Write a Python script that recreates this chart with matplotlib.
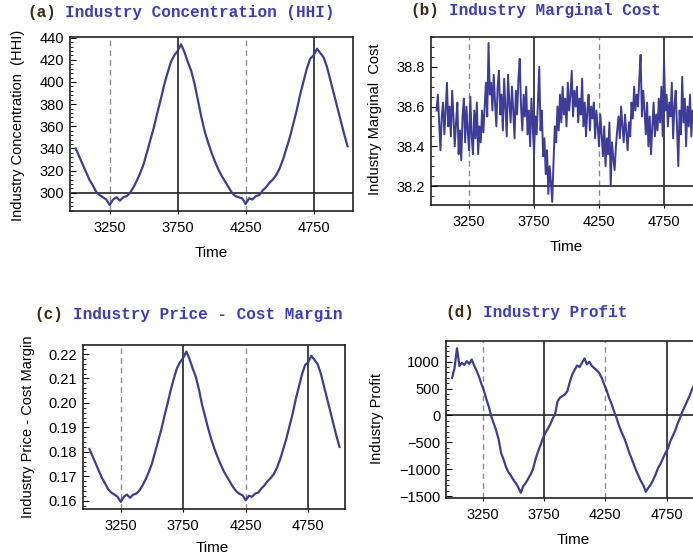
import matplotlib
matplotlib.use("Agg")
import matplotlib.pyplot as plt
from matplotlib.ticker import MultipleLocator, FixedLocator

plt.rcParams['font.family'] = ['Liberation Sans', 'DejaVu Sans']

# time axis for the smooth series (every 25 steps)
time_25 = list(range(3000, 5001, 25))

hhi = [340, 333, 326, 319, 312, 307, 301, 298, 296, 294,
       289, 294, 296, 293, 296, 297, 300, 305, 311, 318,
       326, 337, 348, 359, 372, 384, 397, 408, 418, 424,
       428, 434, 427, 418, 410, 398, 383, 368, 355, 345,
       336, 328, 321, 315, 310, 305, 300, 297, 296, 295,
       290, 295, 294, 297, 298, 302, 305, 309, 312, 316,
       322, 330, 340, 350, 362, 374, 388, 400, 412, 421,
       424, 430, 426, 422, 413, 401, 389, 377, 365, 353,
       342]

pcm = [0.1811, 0.1782, 0.1752, 0.1722, 0.1693, 0.1671, 0.1646, 0.1633, 0.1625, 0.1616,
       0.1595, 0.1616, 0.1625, 0.1612, 0.1625, 0.1629, 0.1642, 0.1663, 0.1688, 0.1718,
       0.1752, 0.1799, 0.1845, 0.1892, 0.1947, 0.1998, 0.2053, 0.2100, 0.2142, 0.2167,
       0.2184, 0.2210, 0.2180, 0.2142, 0.2108, 0.2057, 0.1994, 0.1945, 0.1895, 0.1850,
       0.1812, 0.1778, 0.1748, 0.1720, 0.1698, 0.1676, 0.1655, 0.1638, 0.1628, 0.1622,
       0.1602, 0.1620, 0.1616, 0.1629, 0.1633, 0.1650, 0.1663, 0.1680, 0.1693, 0.1709,
       0.1735, 0.1769, 0.1811, 0.1854, 0.1905, 0.1955, 0.2015, 0.2066, 0.2117, 0.2155,
       0.2167, 0.2193, 0.2176, 0.2159, 0.2121, 0.2070, 0.2019, 0.1968, 0.1917, 0.1866,
       0.1820]

# marginal cost, every 10 steps
time_10 = list(range(3000, 5001, 10))
mc = [38.58, 38.66, 38.52, 38.38, 38.55, 38.62, 38.46, 38.58, 38.72, 38.50,
      38.60, 38.45, 38.68, 38.55, 38.40, 38.52, 38.62, 38.36, 38.48, 38.33,
      38.55, 38.64, 38.42, 38.60, 38.48, 38.38, 38.65, 38.45, 38.36, 38.58,
      38.44, 38.62, 38.36, 38.50, 38.42, 38.58, 38.47, 38.60, 38.72, 38.55,
      38.92, 38.66, 38.72, 38.58, 38.76, 38.62, 38.50, 38.70, 38.78, 38.56,
      38.66, 38.48, 38.74, 38.60, 38.45, 38.76, 38.62, 38.52, 38.70, 38.58,
      38.44, 38.68, 38.56, 38.74, 38.84, 38.60, 38.48, 38.66, 38.55, 38.70,
      38.46, 38.58, 38.40, 38.64, 38.50, 38.36, 38.55, 38.46, 38.62, 38.80,
      38.48, 38.58, 38.35, 38.44, 38.26, 38.38, 38.16, 38.30, 38.22, 38.12,
      38.32, 38.50, 38.42, 38.60, 38.48, 38.66, 38.52, 38.70, 38.56, 38.64,
      38.50, 38.72, 38.58, 38.66, 38.78, 38.55, 38.68, 38.60, 38.70, 38.52,
      38.64, 38.56, 38.74, 38.50, 38.62, 38.45, 38.58, 38.66, 38.48, 38.60,
      38.54, 38.62, 38.44, 38.58, 38.50, 38.40, 38.56, 38.46, 38.35, 38.50,
      38.30, 38.44, 38.36, 38.52, 38.20, 38.42, 38.34, 38.28, 38.40, 38.48,
      38.55, 38.44, 38.60, 38.50, 38.42, 38.56, 38.47, 38.38, 38.52, 38.45,
      38.62, 38.54, 38.70, 38.58, 38.66, 38.60, 38.74, 38.86, 38.55, 38.68,
      38.58, 38.46, 38.62, 38.40, 38.55, 38.36, 38.50, 38.62, 38.45, 38.56,
      38.48, 38.64, 38.52, 38.70, 38.45, 38.84, 38.58, 38.66, 38.50, 38.62,
      38.55, 38.72, 38.44, 38.60, 38.68, 38.50, 38.30, 38.58, 38.46, 38.75,
      38.52, 38.64, 38.40, 38.60, 38.50, 38.66, 38.45, 38.58, 38.52, 38.62,
      38.55]

# profit, every 20 steps
time_20 = list(range(3000, 5001, 20))
profit = [700, 880, 1250, 920, 980, 940, 1010, 960, 1040, 930,
          830, 720, 580, 460, 300, 160, -20, -150, -280, -450,
          -700, -820, -960, -1060, -1120, -1200, -1260, -1340, -1440, -1320,
          -1260, -1180, -1100, -1000, -820, -680, -560, -430, -330, -250,
          -170, -60, 20, 260, 330, 360, 390, 450, 620, 760,
          850, 930, 900, 980, 1060, 950, 1000, 920, 880, 840,
          790, 700, 580, 470, 330, 220, 80, -40, -180, -300,
          -400, -520, -660, -780, -900, -1020, -1120, -1220, -1300, -1420,
          -1350, -1290, -1200, -1100, -980, -900, -800, -700, -620, -480,
          -380, -280, -150, -40, 80, 180, 280, 380, 500, 600,
          700]

solid_lines = [3750, 4750]
dashed_lines = [3250, 4250]
x_ticks = [3250, 3750, 4250, 4750]

W, H = 693, 560
line_color = '#3d3d99'
title_size = 11.5
char_px = 0.6 * title_size * 100 / 72   # monospace advance in pixels

fig = plt.figure(figsize=(W / 100, H / 100), dpi=100)


def px_axes(left, top, right, bottom):
    return fig.add_axes([left / W, 1 - bottom / H, (right - left) / W, (bottom - top) / H])


def style_panel(ax, xlim, ylim, major, minor, hline=None):
    ax.set_xlim(*xlim)
    ax.set_ylim(*ylim)
    for x in dashed_lines:
        ax.axvline(x, color='#8a8a8a', lw=1.0, ls=(0, (4, 3)), zorder=1)
    for x in solid_lines:
        ax.axvline(x, color='#222222', lw=1.2, zorder=1)
    if hline is not None:
        ax.axhline(hline, color='#222222', lw=1.2, zorder=1)
    ax.xaxis.set_major_locator(FixedLocator(x_ticks))
    ax.yaxis.set_major_locator(MultipleLocator(major))
    ax.yaxis.set_minor_locator(MultipleLocator(minor))
    ax.tick_params(axis='y', which='major', direction='in', length=4, width=0.8,
                   labelsize=10.5, pad=4)
    ax.tick_params(axis='y', which='minor', direction='in', length=2, width=0.6)
    ax.tick_params(axis='x', which='major', direction='out', length=2.5, width=0.8,
                   labelsize=10.5, pad=5)
    for sp in ax.spines.values():
        sp.set_color('#222222')
        sp.set_linewidth(1.2)


def title(x, y, tag, text):
    # tag in dark, the rest in blue right after it
    fig.text(x / W, 1 - y / H, tag, color='#3d2d10', family='Liberation Mono',
             fontsize=title_size, weight='bold', va='center', ha='left')
    x2 = x + (len(tag) + 1) * char_px
    fig.text(x2 / W, 1 - y / H, text, color='#3c3cc8', family='Liberation Mono',
             fontsize=title_size, weight='bold', va='center', ha='left')


def labels(ylab, yx, yy, tx, ty):
    fig.text(yx / W, 1 - yy / H, ylab, rotation=90, fontsize=10.5,
             ha='center', va='center')
    fig.text(tx / W, 1 - ty / H, 'Time', fontsize=11, ha='center', va='center')


# (a)
ax = px_axes(70, 37, 353, 211)
ax.plot(time_25, hhi, color=line_color, lw=1.6, zorder=3)
style_panel(ax, (2958, 5040), (283.6, 440.6), 20, 4, hline=300)
title(27, 12, '(a)', 'Industry Concentration (HHI)')
labels('Industry Concentration  (HHI)', 18, 125, 211, 253)

# (b)
ax = px_axes(430.7, 37, 701.7, 204.7)
ax.plot(time_10, mc, color=line_color, lw=1.4, zorder=3)
style_panel(ax, (2955, 5040), (38.106, 38.95), 0.2, 0.05, hline=38.2)
ax.yaxis.set_major_formatter(matplotlib.ticker.FormatStrFormatter('%.1f'))
title(410.7, 11, '(b)', 'Industry Marginal Cost')
labels('Industry Marginal  Cost', 375, 119, 566, 247)

# (c)
ax = px_axes(82.7, 345, 345, 509)
ax.plot(time_25, pcm, color=line_color, lw=1.6, zorder=3)
style_panel(ax, (2946, 5044), (0.1566, 0.2237), 0.01, 0.002)
ax.yaxis.set_major_formatter(matplotlib.ticker.FormatStrFormatter('%.2f'))
title(34.3, 315, '(c)', 'Industry Price - Cost Margin')
labels('Industry Price - Cost Margin', 28, 427, 212, 548)

# (d)
ax = px_axes(445.7, 341, 702.2, 498)
ax.plot(time_20, profit, color=line_color, lw=1.6, zorder=3)
style_panel(ax, (2948, 5040), (-1537, 1385), 500, 100, hline=0)
ax.yaxis.set_major_formatter(matplotlib.ticker.FuncFormatter(
    lambda v, p: f"{int(v)}".replace('-', '\u2212')))
title(445, 313, '(d)', 'Industry Profit')
labels('Industry Profit', 377, 419, 573, 540)

fig.savefig('out.png', dpi=100)
plt.close(fig)
